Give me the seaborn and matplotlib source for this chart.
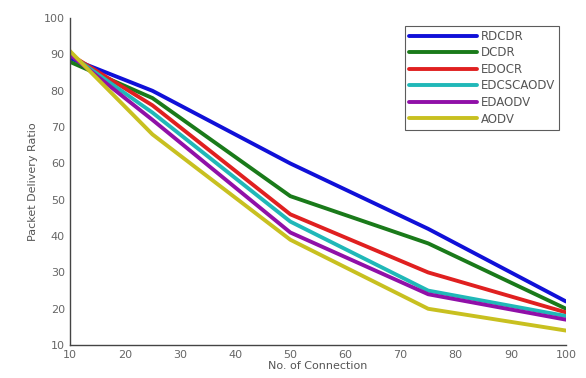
import matplotlib
matplotlib.use("Agg")
import matplotlib.pyplot as plt
import seaborn as sns
import pandas as pd

connections = [10, 25, 50, 75, 100]
rdcdr = [89, 80, 60, 42, 22]
dcdr = [88, 78, 51, 38, 20]
edocr = [90, 76, 46, 30, 19]
edcscaodv = [90, 74, 44, 25, 18]
edaodv = [90, 72, 41, 24, 17]
aodv = [91, 68, 39, 20, 14]

series_names = ["RDCDR", "DCDR", "EDOCR", "EDCSCAODV", "EDAODV", "AODV"]
series_values = [rdcdr, dcdr, edocr, edcscaodv, edaodv, aodv]
colors = ["#1010d8", "#1a7a1a", "#e02020", "#20b8b8", "#9010a8", "#c8c020"]

rows = []
for name, vals in zip(series_names, series_values):
    for x, y in zip(connections, vals):
        rows.append({"conn": x, "pdr": y, "protocol": name})
df = pd.DataFrame(rows)

sns.set_style("white")
fig = plt.figure(figsize=(5.86, 3.78), dpi=100)
ax = fig.add_axes([0.119, 0.087, 0.847, 0.865])
sns.lineplot(data=df, x="conn", y="pdr", hue="protocol", hue_order=series_names,
             palette=colors, linewidth=2.8, ax=ax, legend=True)

ax.set_xlim(10, 100)
ax.set_ylim(10, 100)
ax.set_xticks(range(10, 101, 10))
ax.set_yticks(range(10, 101, 10))
ax.tick_params(direction="in", length=3, labelsize=8, colors="#555555", width=0.8)
for lab in ax.get_xticklabels() + ax.get_yticklabels():
    lab.set_color("#666666")
ax.set_xlabel("No. of Connection", fontsize=8, color="#555555", labelpad=1)
ax.set_ylabel("Packet Delivery Ratio", fontsize=8, color="#555555", labelpad=4)
for s in ["top", "right"]:
    ax.spines[s].set_visible(False)
for s in ["left", "bottom"]:
    ax.spines[s].set_color("#444444")
    ax.spines[s].set_linewidth(1.0)

leg = ax.legend(loc="upper right", bbox_to_anchor=(0.998, 0.995), fontsize=8.5,
                frameon=True, fancybox=False, edgecolor="#333333",
                handlelength=5.8, handletextpad=0.3, borderpad=0.35,
                labelspacing=0.3)
leg.get_frame().set_linewidth(0.8)
for t in leg.get_texts():
    t.set_color("#555555")

fig.savefig("out.png", dpi=100)
